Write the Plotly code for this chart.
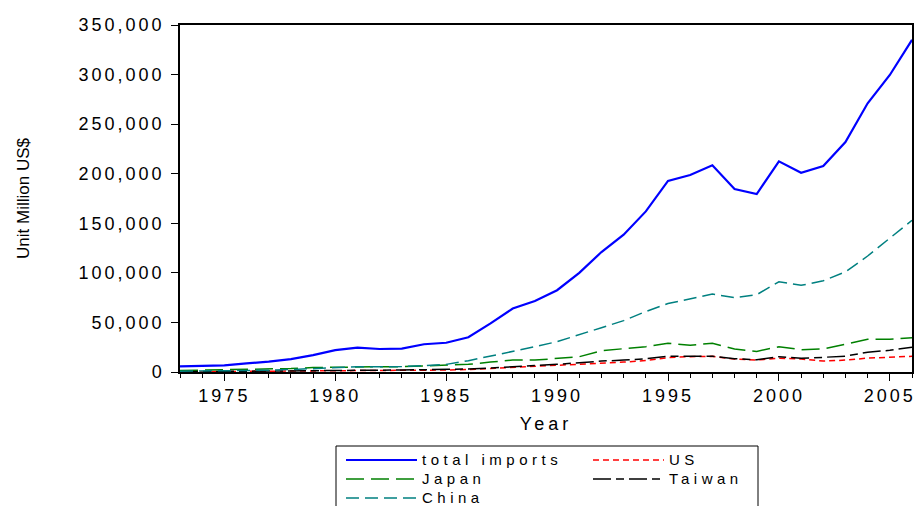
import plotly.graph_objects as go

years = list(range(1973, 2007))

total_imports = [5700, 6500, 6700, 8700, 10400, 13000, 17000, 22000, 24500, 23200,
                 23500, 28000, 29500, 35000, 49000, 64000, 71600, 82500, 100000, 121000,
                 138500, 162000, 192700, 198700, 208500, 184600, 179500, 212500, 201000, 207800,
                 232000, 271000, 299600, 335000]
us = [200, 300, 400, 500, 600, 800, 1000, 1200, 1500, 1500,
      1600, 1800, 2000, 2500, 3500, 4500, 5500, 6500, 7500, 8700,
      10000, 11500, 14500, 15500, 15800, 13000, 12000, 14000, 13000, 11000,
      12000, 14000, 15000, 15800]
japan = [1500, 1800, 2000, 2300, 2800, 3500, 4500, 5000, 5500, 5300,
         5400, 6200, 6700, 7700, 10000, 12000, 12000, 13400, 15400, 21500,
         23200, 25500, 29000, 27000, 29000, 23200, 20800, 25500, 22500, 23200,
         28000, 33000, 33000, 34600]
taiwan = [300, 400, 500, 600, 800, 1000, 1300, 1500, 1700, 1800,
          2000, 2300, 2500, 3000, 4000, 5500, 6500, 7700, 9500, 11000,
          12000, 13400, 16000, 16000, 16000, 13400, 12400, 15400, 13800, 14800,
          16000, 20000, 21900, 25000]
china = [800, 1000, 1100, 1400, 1800, 2500, 3500, 4500, 5200, 5300,
         5500, 6500, 7700, 11400, 16000, 21000, 25500, 30600, 37300, 44700,
         51800, 61000, 69000, 74000, 78700, 75000, 78000, 91000, 87400, 92000,
         101000, 117000, 134800, 153000]

x_tick_vals = [1975, 1980, 1985, 1990, 1995, 2000, 2005]
x_tick_text = ["1975", "1980", "1985", "1990", "1995", "2000", "2005"]
y_tick_vals = [0, 50000, 100000, 150000, 200000, 250000, 300000, 350000]
y_tick_text = ["0", "50,000", "100,000", "150,000", "200,000", "250,000", "300,000", "350,000"]

FONT = "Liberation Sans, Arial, sans-serif"

# plot area in pixels (918 x 506 canvas)
PL, PR, PT, PB = 180, 912, 25, 372
PW, PH = PR - PL, PB - PT


def spaced(s, px, size=None):
    style = f"letter-spacing:{px}px"
    if size:
        style += f";font-size:{size}px"
    return f'<span style="{style}">{s}</span>'


series = [
    ("total imports", total_imports, "#0000FF", "solid", 2.2),
    ("US", us, "#FF0000", "6px,4px", 1.5),
    ("Japan", japan, "#008000", "18px,7px", 1.5),
    ("Taiwan", taiwan, "#000000", "18px,5px,8px,5px", 1.5),
    ("China", china, "#008080", "13px,6px", 1.5),
]

fig = go.Figure()
for name, vals, color, dash, width in series:
    fig.add_trace(go.Scatter(
        x=years, y=vals, mode="lines", name=spaced(name, 4.5, 15),
        line=dict(color=color, dash=dash, width=width),
    ))

axis_font = dict(family=FONT, size=18, color="#000000")

# legend frame (open at the bottom edge of the canvas)
fig.add_shape(
    type="rect", xref="paper", yref="paper",
    x0=(336 - PL) / PW, x1=(758 - PL) / PW,
    y0=(PB - 446) / PH, y1=(PB - 530) / PH,
    line=dict(color="#000000", width=1), fillcolor="rgba(0,0,0,0)",
    layer="above",
)

fig.update_layout(
    width=918, height=506,
    margin=dict(l=PL, r=918 - PR, t=PT, b=506 - PB, autoexpand=False),
    paper_bgcolor="white", plot_bgcolor="white",
    font=dict(family=FONT, color="#000000"),
    showlegend=True,
    legend=dict(
        orientation="h",
        x=(341 - PL) / PW, xanchor="left",
        y=(PB - 445.5) / PH, yanchor="top",
        entrywidth=161, itemwidth=71,
        font=dict(family=FONT, size=12, color="#000000"),
        bgcolor="rgba(0,0,0,0)", borderwidth=0,
        tracegroupgap=0,
    ),
    xaxis=dict(
        range=[1973, 2006],
        tickvals=x_tick_vals,
        ticktext=[spaced(t, 3) for t in x_tick_text],
        ticks="outside", ticklen=7, tickwidth=1, tickcolor="#000000",
        minor=dict(dtick=1, tick0=1973, ticks="outside", ticklen=4, tickwidth=1, tickcolor="#000000"),
        showline=True, linecolor="#000000", linewidth=1.5, mirror=True,
        showgrid=False, zeroline=False,
        tickfont=axis_font,
        title=dict(text=spaced("Year", 4), font=axis_font, standoff=12),
    ),
    yaxis=dict(
        range=[0, 350000],
        tickvals=y_tick_vals,
        ticktext=[spaced(t, 3) for t in y_tick_text],
        ticks="outside", ticklen=7, tickwidth=1, tickcolor="#000000",
        ticklabelstandoff=3,
        showline=True, linecolor="#000000", linewidth=1.5, mirror=True,
        showgrid=False, zeroline=False,
        tickfont=axis_font,
        title=dict(text="Unit Million US$", font=dict(family=FONT, size=17, color="#000000"), standoff=45),
    ),
)

fig.write_html("out.html")
